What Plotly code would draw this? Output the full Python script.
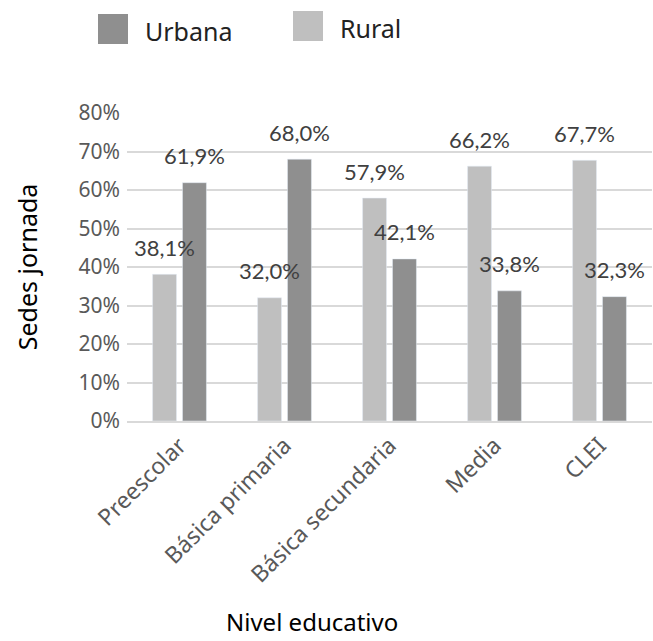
import plotly.graph_objects as go

categories = ["Preescolar", "Básica primaria", "Básica secundaria", "Media", "CLEI"]
rural = [38.1, 32.0, 57.9, 66.2, 67.7]
urbana = [61.9, 68.0, 42.1, 33.8, 32.3]
series_names = ["Rural", "Urbana"]
y_ticks = [0, 10, 20, 30, 40, 50, 60, 70, 80]

C_RURAL = "#BFBFBF"
C_URB = "#8F8F8F"
LABEL_FONT = "Lato"
MAIN_FONT = "Noto Sans"

def fmt(v):
    return f"{v:.1f}".replace(".", ",") + "%"

fig = go.Figure()
fig.add_trace(go.Bar(x=categories, y=rural, name="Rural", marker_color=C_RURAL, showlegend=False))
fig.add_trace(go.Bar(x=categories, y=urbana, name="Urbana", marker_color=C_URB, showlegend=False))

annotations = []
for vals, shift in ((rural, -15), (urbana, 15)):
    for c, v in zip(categories, vals):
        annotations.append(dict(x=c, y=v, xref="x", yref="y", text=fmt(v), showarrow=False,
                                xshift=shift, yshift=27, yanchor="middle",
                                font=dict(family=LABEL_FONT, size=22, color="#404040")))

# axis titles
annotations.append(dict(text="Sedes jornada", xref="paper", yref="paper", x=-0.19, y=0.5,
                        xanchor="center", yanchor="middle", textangle=-90, showarrow=False,
                        font=dict(family=MAIN_FONT, size=25, color="#000000")))
annotations.append(dict(text="Nivel educativo", xref="paper", yref="paper", x=(312 - 127) / 525,
                        y=-(639 - 421) / 308, xanchor="center", yanchor="bottom", showarrow=False,
                        borderpad=0,
                        font=dict(family=MAIN_FONT, size=24, color="#000000")))

# manual legend
legend_items = [("Urbana", C_URB, 98, 14, 143), ("Rural", C_RURAL, 293, 11, 338)]
shapes = []
for name, col, sx, sy, tx in legend_items:
    shapes.append(dict(type="rect", xref="paper", yref="paper",
                       x0=(sx - 127) / 525, x1=(sx + 30 - 127) / 525,
                       y0=(421 - sy) / 308, y1=(421 - sy - 30) / 308,
                       fillcolor=col, line=dict(width=0)))
    annotations.append(dict(text=name, xref="paper", yref="paper", x=(tx - 127) / 525,
                            y=(421 - sy - 17) / 308, xanchor="left", yanchor="middle",
                            showarrow=False, font=dict(family=MAIN_FONT, size=25, color="#222222")))

fig.update_layout(
    width=653, height=641,
    margin=dict(l=127, r=1, t=113, b=220),
    paper_bgcolor="white", plot_bgcolor="white",
    barmode="group", bargap=0.43, bargroupgap=0.2,
    annotations=annotations, shapes=shapes,
    xaxis=dict(tickangle=-45, tickfont=dict(family=MAIN_FONT, size=23, color="#595959"),
               showline=True, linecolor="#D9D9D9", linewidth=2, ticks=""),
    yaxis=dict(range=[0, 80], tickvals=y_ticks, ticktext=[f"{t}%" for t in y_ticks],
               tickfont=dict(family=MAIN_FONT, size=21, color="#595959"),
               showgrid=True, gridcolor="#D9D9D9", gridwidth=2, zeroline=False, ticks="",
               ticklabelstandoff=6),
)

fig.write_html("out.html")
